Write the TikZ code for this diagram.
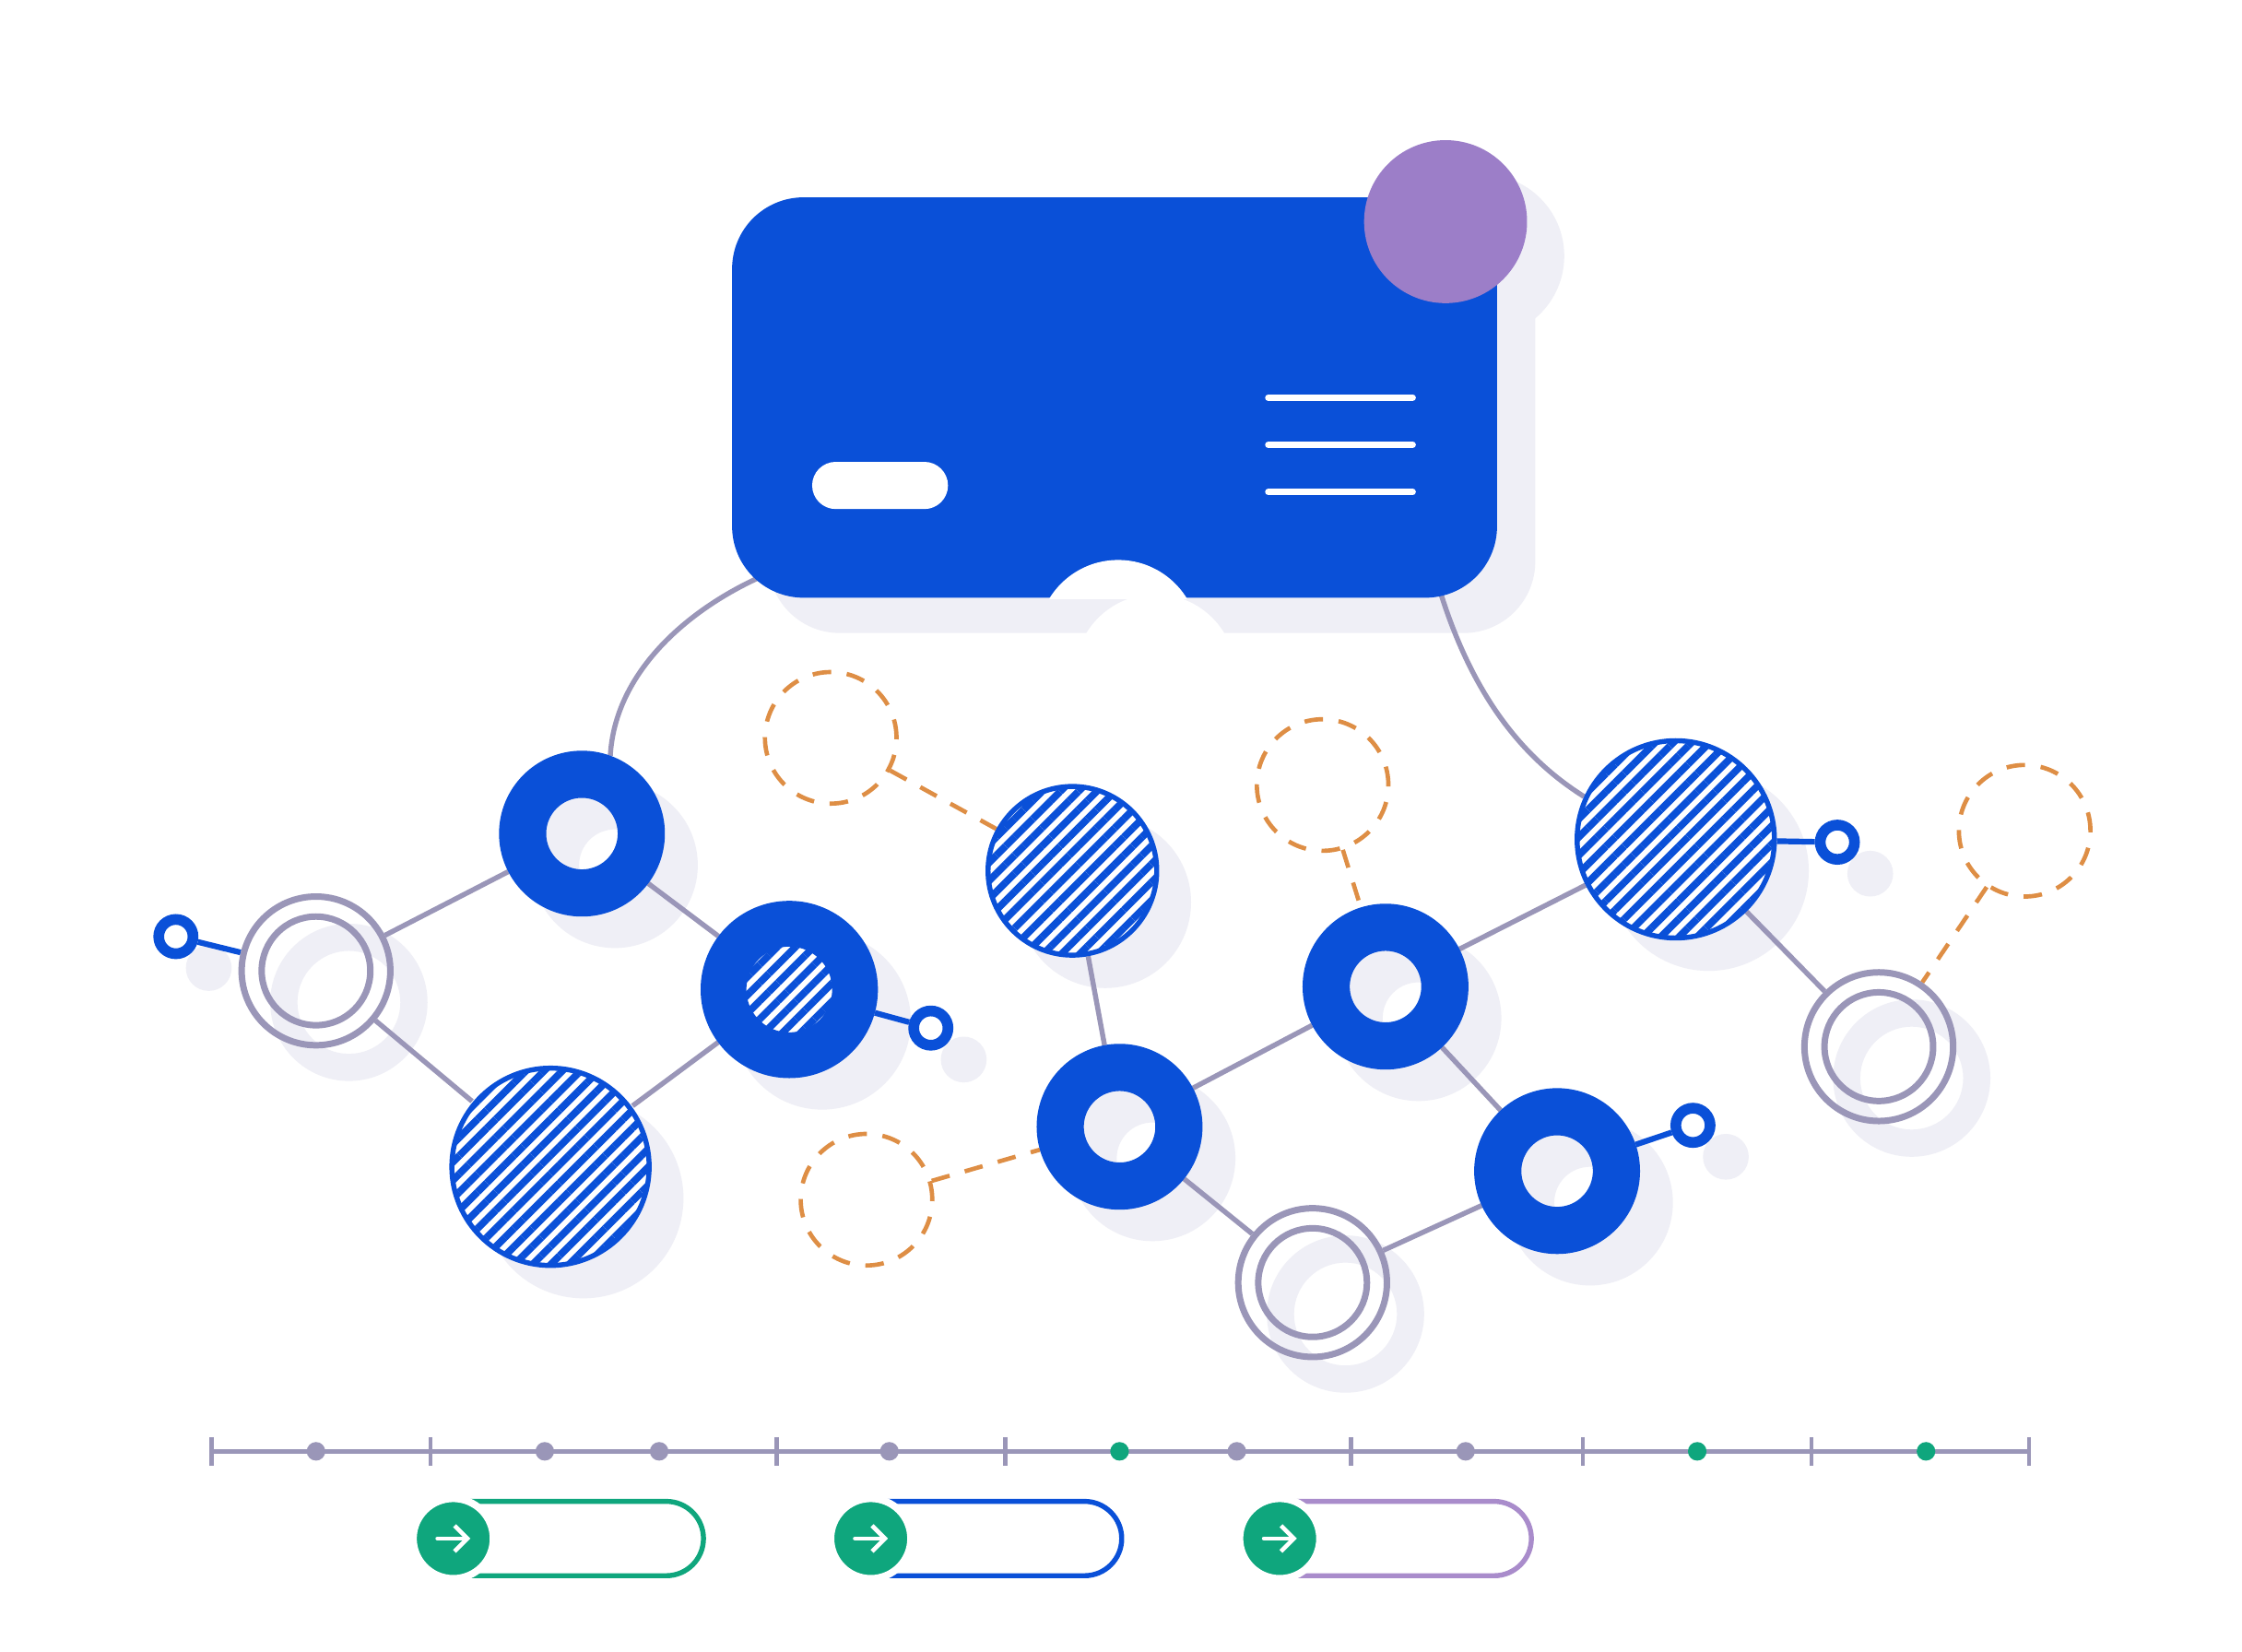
\documentclass[tikz,border=0pt]{standalone}
\usetikzlibrary{arrows.meta, positioning, patterns.meta}
\definecolor{cardblue}{HTML}{0A50D8}
\definecolor{nodeblue}{HTML}{0A50D8}
\definecolor{linkgray}{HTML}{9A96B8}
\definecolor{shadowgray}{HTML}{EFEFF6}
\definecolor{hintorange}{HTML}{DE8E45}
\definecolor{okgreen}{HTML}{0FA67D}
\definecolor{badgepurple}{HTML}{9C7EC8}
\definecolor{pillpurple}{HTML}{A98CCB}
\pgfdeclarelayer{shadows}
\pgfdeclarelayer{links}
\pgfsetlayers{shadows,links,main}

\begin{document}
\begin{tikzpicture}[
x=0.1mm, y=-0.1mm,
card/.style={rectangle, fill=cardblue, rounded corners=5mm, minimum width=53.5mm, minimum height=28mm, inner sep=0pt},
badge/.style={circle, fill=badgepurple, minimum size=11.4mm, inner sep=0pt},
chip/.style={rectangle, fill=white, rounded corners=1.65mm, minimum width=9.5mm, minimum height=3.3mm, inner sep=0pt},
ringnode/.style={circle, draw=nodeblue, line width=3.3mm, minimum size=8.3mm, inner sep=0pt},
ringhatchnode/.style={circle, draw=nodeblue, line width=3.2mm, minimum size=9.2mm, inner sep=0pt,
  preaction={fill=white}, pattern={Lines[angle=45, distance=0.9mm, line width=0.5mm]}, pattern color=nodeblue},
hatchnode/.style={circle, draw=nodeblue, line width=0.35mm, minimum size=#1, inner sep=0pt,
  preaction={fill=white}, pattern={Lines[angle=45, distance=0.9mm, line width=0.5mm]}, pattern color=nodeblue},
hollownode/.style={circle, draw=linkgray, line width=0.45mm, minimum size=10.4mm, inner sep=0pt,
  path picture={\draw[linkgray, line width=0.45mm] (path picture bounding box.center) circle (3.8mm);}},
tinynode/.style={circle, draw=nodeblue, fill=white, line width=0.75mm, minimum size=2.4mm, inner sep=0pt},
hintnode/.style={circle, draw=hintorange, line width=0.3mm, dash pattern=on 1.3mm off 1.1mm, minimum size=9.2mm, inner sep=0pt},
linkline/.style={draw=linkgray, line width=0.35mm},
bluelink/.style={draw=nodeblue, line width=0.4mm},
hintline/.style={draw=hintorange, line width=0.3mm, dash pattern=on 1.3mm off 1.1mm},
axisline/.style={draw=linkgray, line width=0.3mm},
tdot/.style={circle, minimum size=1.3mm, inner sep=0pt},
pill/.style={rectangle, fill=white, rounded corners=2.6mm, minimum width=20.1mm, minimum height=5.2mm, line width=0.35mm, inner sep=0pt},
gobutton/.style={circle, fill=okgreen, draw=white, line width=0.5mm, minimum size=5.6mm, inner sep=0pt},
arrowicon/.style={draw=white, line width=0.3mm, line cap=round, -{Straight Barb[length=0.9mm, width=1.8mm]}}
]

\useasboundingbox (0,0) rectangle (1568,1155);

\node[card] (card) at (779.5,278) {};
\node[badge] (badge) at (1011,155) {};
\node[chip] (chip) at (615.5,339.5) {};
\begin{scope}
\clip (card.south west) rectangle (card.north east);
\fill[white] (782,448) circle (5.64mm);
\end{scope}
\foreach \y in {278,311,344}
  \draw[white, line width=0.45mm, line cap=round] (887,\y) -- (988,\y);

\node[ringnode] (A) at (407,583) {};
\node[hollownode] (B) at (221,679) {};
\node[hatchnode=13.8mm] (C) at (385,816) {};
\node[ringhatchnode] (D) at (552,692) {};
\node[hatchnode=11.8mm] (E) at (750,609) {};
\node[ringnode] (F) at (783,788) {};
\node[hollownode] (G) at (918,897) {};
\node[ringnode] (H) at (969,690) {};
\node[ringnode] (I) at (1089,819) {};
\node[hatchnode=13.8mm] (J) at (1172,587) {};
\node[hollownode] (K) at (1314,732) {};

\node[tinynode] (s1) at (123,655) {};
\node[tinynode] (s2) at (651,719) {};
\node[tinynode] (s3) at (1285,589) {};
\node[tinynode] (s4) at (1184,787) {};

\node[hintnode] (o1) at (581,516) {};
\node[hintnode] (o2) at (925,549) {};
\node[hintnode] (o3) at (1416,581) {};
\node[hintnode] (o4) at (606,839) {};

\coordinate (axisL) at (148,1015);
\coordinate (axisR) at (1419,1015);
\draw[axisline] (axisL) -- (axisR);
\foreach \x in {148,301,543,703,945,1107,1267,1419}
  \draw[axisline] (\x,1005) -- (\x,1025);
\foreach \x [count=\i] in {221,381,461,622,865,1025}
  \node[tdot, fill=linkgray] (gray\i) at (\x,1015) {};
\foreach \x [count=\i] in {783,1187,1347}
  \node[tdot, fill=okgreen] (green\i) at (\x,1015) {};

\node[pill, draw=okgreen] (pill1) at (391.5,1076) {};
\node[pill, draw=nodeblue] (pill2) at (684,1076) {};
\node[pill, draw=pillpurple] (pill3) at (970.5,1076) {};
\node[gobutton] (go1) at (317,1076) {};
\node[gobutton] (go2) at (609,1076) {};
\node[gobutton] (go3) at (895,1076) {};
\foreach \g in {go1,go2,go3}
  \draw[arrowicon] ([xshift=-1.1mm]\g.center) -- ([xshift=1.2mm]\g.center);

\begin{pgfonlayer}{shadows}
\fill[white] (0,0) rectangle (1568,1155);
\fill[shadowgray, rounded corners=5mm] ([shift={(26,24)}]card.south west) rectangle ([shift={(26,24)}]card.north east);
\fill[white] (808,472) circle (5.64mm);
\fill[shadowgray] ([shift={(26,24)}]badge.center) circle (5.7mm);
\foreach \n/\r/\h in {A/5.8mm/2.5mm, B/5.5mm/3.6mm, C/7mm/0mm, D/6.2mm/0mm, E/6mm/0mm, F/5.8mm/2.5mm, G/5.5mm/3.6mm,
    H/5.8mm/2.5mm, I/5.8mm/2.5mm, J/7mm/0mm, K/5.5mm/3.6mm, s1/1.6mm/0mm, s2/1.6mm/0mm, s3/1.6mm/0mm, s4/1.6mm/0mm}
  \fill[shadowgray, even odd rule] ([shift={(23,22)}]\n.center) circle (\r) ([shift={(23,22)}]\n.center) circle (\h);
\end{pgfonlayer}

\begin{pgfonlayer}{links}
\draw[linkline] ([shift={(20,-15)}]card.south west) .. controls (478,428) and (430,472) .. (A.70);
\draw[linkline] ([shift={(-42,-10)}]card.south east) .. controls (1030,490) and (1068,532) .. (J.155);
\draw[linkline] (B) -- (A);
\draw[linkline] (B) -- (C);
\draw[linkline] (A) -- (D);
\draw[linkline] (C) -- (D);
\draw[linkline] (E) -- (F);
\draw[linkline] (F) -- (H);
\draw[linkline] (F) -- (G);
\draw[linkline] (G) -- (I);
\draw[linkline] (H) -- (I);
\draw[linkline] (H) -- (J);
\draw[linkline] (J) -- (K);
\draw[bluelink] (s1) -- (B);
\draw[bluelink] (D) -- (s2);
\draw[bluelink] (J) -- (s3);
\draw[bluelink] (I) -- (s4);
\draw[hintline] (o1) -- (E);
\draw[hintline] (o2) -- (H);
\draw[hintline] (o3) -- (K);
\draw[hintline] (o4) -- (F);
\end{pgfonlayer}

\end{tikzpicture}
\end{document}
